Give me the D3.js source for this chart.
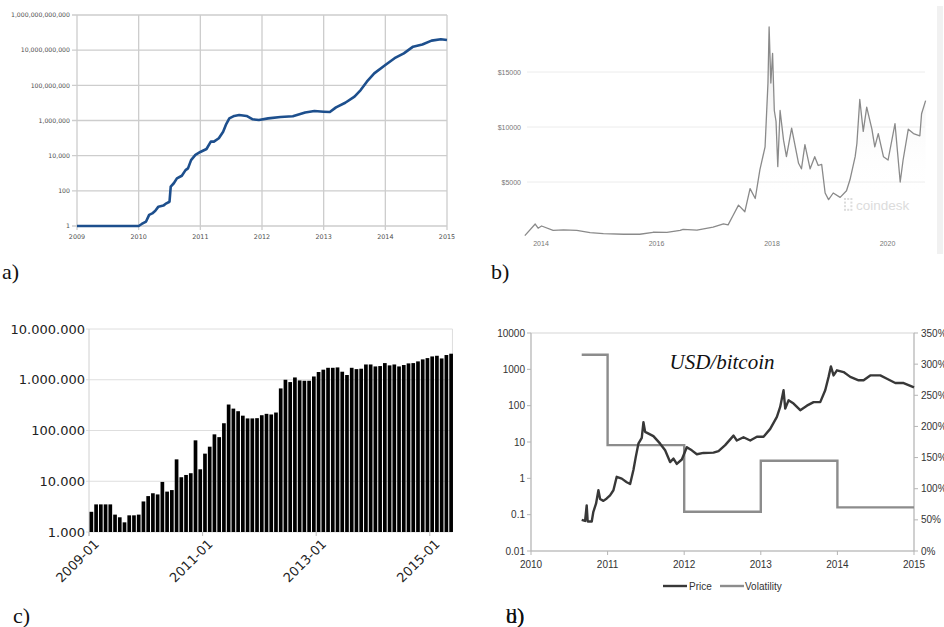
<!DOCTYPE html>
<html>
<head>
<meta charset="utf-8">
<script src="https://cdn.jsdelivr.net/npm/d3@7"></script>
<style>
  body { margin: 0; background: #fff; }
</style>
</head>
<body>
<svg id="fig"></svg>
<script>
// a) cumulative value (log scale), 2009-2015
const aYears = [2009, 2010, 2010.05, 2010.12, 2010.17, 2010.22, 2010.27, 2010.32, 2010.4, 2010.45, 2010.5,
  2010.52, 2010.57, 2010.62, 2010.7, 2010.76, 2010.8, 2010.85, 2010.92, 2011, 2011.1, 2011.17, 2011.22,
  2011.3, 2011.37, 2011.42, 2011.47, 2011.55, 2011.63, 2011.75, 2011.85, 2011.95, 2012.1, 2012.3, 2012.5,
  2012.7, 2012.85, 2013, 2013.1, 2013.2, 2013.35, 2013.5, 2013.6, 2013.7, 2013.82, 2014, 2014.15, 2014.3,
  2014.45, 2014.6, 2014.75, 2014.9, 2015]
const aValues = [1, 1, 1.3, 1.8, 4.3, 5.2, 7.4, 12.6, 14.5, 19.5, 24,
  174, 270, 510, 720, 1500, 1900, 5600, 11000, 16200, 24000, 63000, 63000,
  98000, 230000, 630000, 1320000, 1820000, 2040000, 1820000, 1170000, 1070000, 1320000, 1580000, 1740000,
  2880000, 3470000, 3160000, 3020000, 5600000, 1.02e7, 2.29e7, 5.4e7, 1.62e8, 4.8e8, 1.45e9, 3.5e9, 6.6e9,
  1.58e10, 2.1e10, 3.5e10, 4.2e10, 3.8e10]
const aYTicks = [1, 100, 1e4, 1e6, 1e8, 1e10, 1e12]
const aXTicks = [2009, 2010, 2011, 2012, 2013, 2014, 2015]

// b) coindesk price in USD
const bYears = [2013.72, 2013.9, 2013.95, 2014.01, 2014.21, 2014.39, 2014.62, 2014.85, 2015.08, 2015.43,
  2015.71, 2015.94, 2016.18, 2016.41, 2016.46, 2016.7, 2016.98, 2017.16, 2017.24, 2017.33, 2017.42,
  2017.53, 2017.62, 2017.71, 2017.79, 2017.88, 2017.93, 2017.95, 2017.98, 2018.01, 2018.04, 2018.07,
  2018.1, 2018.14, 2018.2, 2018.25, 2018.34, 2018.46, 2018.51, 2018.57, 2018.66, 2018.74, 2018.8,
  2018.86, 2018.92, 2018.98, 2019.06, 2019.18, 2019.29, 2019.35, 2019.44, 2019.47, 2019.52, 2019.58,
  2019.64, 2019.73, 2019.78, 2019.84, 2019.93, 2020.01, 2020.13, 2020.22, 2020.27, 2020.36, 2020.45,
  2020.56, 2020.59, 2020.66]
const bPrices = [120, 1180, 800, 1000, 600, 650, 600, 400, 300, 250,
  250, 430, 420, 600, 700, 620, 900, 1200, 1100, 2000, 2900,
  2300, 4400, 3500, 6100, 8200, 14000, 19100, 14000, 16700, 11500, 10500,
  6400, 11500, 8800, 7300, 9900, 6700, 6200, 8400, 6200, 7300, 6500,
  6600, 4000, 3400, 4000, 3600, 4200, 5200, 7300, 8500, 12500, 9600,
  11800, 9800, 8200, 9400, 7300, 7000, 10300, 5000, 7000, 9800, 9400,
  9200, 11200, 12400]
const bYTicks = [5000, 10000, 15000]
const bXTicks = [2014, 2016, 2018, 2020]

// c) monthly bars, 2009-01 .. 2015-05 (log scale)
const cValues = [2500, 3500, 3500, 3500, 3500, 2200, 1950, 1550, 2130, 2130, 2200, 4000,
  5100, 5800, 5500, 9700, 6250, 6700, 27000, 12000, 13300, 14400, 64000, 17200,
  35000, 48000, 84000, 74000, 139000, 325000, 270000, 240000, 196000, 173000, 173000, 175000,
  200000, 213000, 207000, 226000, 675000, 1000000, 900000, 1110000, 970000, 955000, 955000, 1160000,
  1420000, 1580000, 1720000, 1720000, 1750000, 1440000, 1240000, 1720000, 1620000, 1650000, 2000000, 2000000,
  1830000, 1860000, 2130000, 1920000, 2000000, 1830000, 1950000, 2100000, 2130000, 2300000, 2520000, 2670000,
  2880000, 2970000, 2630000, 3070000, 3260000]
const cMonths = d3.timeMonths(new Date(2009, 0, 1), new Date(2015, 5, 1))
const cYTicks = [1000, 10000, 100000, 1000000, 10000000]
const cXTicks = ["2009-01", "2011-01", "2013-01", "2015-01"]

// d) USD/bitcoin price (log, left) and yearly volatility (right)
const dYears = [2010.662, 2010.706, 2010.727, 2010.74, 2010.793, 2010.814, 2010.849, 2010.88, 2010.902,
  2010.945, 2010.989, 2011.032, 2011.076, 2011.119, 2011.185, 2011.25, 2011.294, 2011.337, 2011.368,
  2011.402, 2011.446, 2011.468, 2011.49, 2011.598, 2011.686, 2011.751, 2011.816, 2011.86, 2011.903,
  2011.969, 2012.034, 2012.099, 2012.165, 2012.252, 2012.382, 2012.448, 2012.535, 2012.644, 2012.687,
  2012.774, 2012.862, 2012.949, 2013.036, 2013.123, 2013.21, 2013.253, 2013.297, 2013.319, 2013.362,
  2013.428, 2013.515, 2013.602, 2013.689, 2013.776, 2013.841, 2013.885, 2013.915, 2013.95, 2013.994,
  2014.081, 2014.168, 2014.277, 2014.342, 2014.429, 2014.56, 2014.647, 2014.756, 2014.865, 2015]
const dPrices = [0.072, 0.067, 0.18, 0.065, 0.065, 0.12, 0.2, 0.47, 0.27,
  0.24, 0.28, 0.34, 0.47, 1.1, 0.98, 0.78, 0.7, 1.7, 3.9,
  9, 13, 35, 19, 14.5, 9, 5.9, 2.8, 3.5, 2.5,
  3.3, 7.2, 5.9, 4.6, 5.0, 5.1, 5.6, 8.2, 15, 11,
  13.5, 11, 14, 14, 23, 49, 92, 265, 83, 140,
  114, 75, 100, 125, 125, 265, 620, 1200, 680, 940,
  840, 620, 500, 500, 680, 680, 550, 420, 420, 320]
const dVolYears = [2010.662, 2011, 2012, 2013, 2014, 2015]
const dVolValues = [315, 170, 63, 145, 70, 70]
const dYTicks = [0.01, 0.1, 1, 10, 100, 1000, 10000]
const dY2Ticks = [0, 50, 100, 150, 200, 250, 300, 350]
const dXTicks = [2010, 2011, 2012, 2013, 2014, 2015]

const svg = d3.select("#fig").attr("width", 944).attr("height", 627)
svg.append("rect").attr("width", 944).attr("height", 627).attr("fill", "#fff")

// ---------- panel a ----------
{
  const x = d3.scaleLinear().domain([2009, 2015]).range([77, 447])
  const y = d3.scaleLog().domain([1, 1e12]).range([226, 15])
  const g = svg.append("g")
  const grid = g.append("g").attr("stroke", "#cdcdcd").attr("stroke-width", 1.3)
  grid.selectAll("line.h").data(aYTicks).join("line").attr("class", "h")
    .attr("x1", 72).attr("x2", 447).attr("y1", d => y(d)).attr("y2", d => y(d))
  grid.selectAll("line.v").data(aXTicks).join("line").attr("class", "v")
    .attr("x1", d => x(d)).attr("x2", d => x(d)).attr("y1", 15).attr("y2", 230)

  const fmt = d3.format(",.0f")
  g.append("g").attr("font-family", "DejaVu Sans").attr("font-size", "6.2px").attr("fill", "#505050")
    .attr("text-anchor", "end")
    .selectAll("text").data(aYTicks).join("text")
    .attr("x", 70).attr("y", d => y(d) + 2.2).text(d => fmt(d))
  g.append("g").attr("font-family", "DejaVu Sans").attr("font-size", "6.4px").attr("fill", "#505050")
    .attr("text-anchor", "middle")
    .selectAll("text").data(aXTicks).join("text")
    .attr("x", d => x(d)).attr("y", 239).text(d => d)

  g.append("path").datum(d3.zip(aYears, aValues))
    .attr("fill", "none").attr("stroke", "#1d4f8d").attr("stroke-width", 2.6)
    .attr("stroke-linejoin", "round")
    .attr("d", d3.line().x(d => x(d[0])).y(d => y(d[1])))
}

// ---------- panel b ----------
{
  const x = d3.scaleLinear().domain([2014, 2020]).range([541, 887.5])
  const y = d3.scaleLinear().domain([0, 15000]).range([237, 72])
  const g = svg.append("g")
  const defs = svg.append("defs")
  const grad = defs.append("linearGradient").attr("id", "bfill")
    .attr("gradientUnits", "userSpaceOnUse").attr("x1", 0).attr("x2", 0).attr("y1", 30).attr("y2", 195)
  grad.append("stop").attr("offset", 0).attr("stop-color", "#e4e4e4")
  grad.append("stop").attr("offset", 1).attr("stop-color", "#ffffff").attr("stop-opacity", 0)

  g.append("rect").attr("x", 937).attr("y", 6).attr("width", 6).attr("height", 248).attr("fill", "#f1f1f1")

  g.append("g").attr("stroke", "#ececec").attr("stroke-width", 1)
    .selectAll("line").data(bYTicks).join("line")
    .attr("x1", 527).attr("x2", 925).attr("y1", d => y(d)).attr("y2", d => y(d))
  g.append("g").attr("font-family", "Liberation Sans").attr("font-size", "7px").attr("fill", "#777")
    .attr("text-anchor", "end")
    .selectAll("text").data(bYTicks).join("text")
    .attr("x", 521).attr("y", d => y(d) + 2.5).text(d => "$" + d)
  g.append("g").attr("font-family", "Liberation Sans").attr("font-size", "7px").attr("fill", "#777")
    .attr("text-anchor", "middle")
    .selectAll("text").data(bXTicks).join("text")
    .attr("x", d => x(d)).attr("y", 246).text(d => d)

  const pts = d3.zip(bYears, bPrices)
  g.append("path").datum(pts).attr("fill", "url(#bfill)")
    .attr("d", d3.area().x(d => x(d[0])).y0(237).y1(d => y(d[1])))

  // watermark
  const wm = g.append("g").attr("fill", "#dcdcdc")
  for (let r = 0; r < 4; r++) {
    for (let c = 0; c < 3; c++) {
      if (c == 1 && (r == 1 || r == 2)) continue
      wm.append("rect").attr("x", 844 + c * 3.2).attr("y", 198 + r * 3.6).attr("width", 2).attr("height", 2)
    }
  }
  wm.append("text").attr("x", 856).attr("y", 210).attr("font-family", "Liberation Sans")
    .attr("font-size", "13.5px").text("coindesk")

  g.append("path").datum(pts).attr("fill", "none").attr("stroke", "#8a8a8a").attr("stroke-width", 1.3)
    .attr("stroke-linejoin", "round")
    .attr("d", d3.line().x(d => x(d[0])).y(d => y(d[1])))
}

// ---------- panel c ----------
{
  const monthFmt = d3.timeFormat("%Y-%m")
  const x = d3.scaleBand().domain(cMonths.map(monthFmt)).range([89, 89 + 77 * 4.72]).paddingInner(0.22)
  const y = d3.scaleLog().domain([1000, 1e7]).range([532, 329])
  const g = svg.append("g")
  const right = 89 + 77 * 4.72
  g.append("g").attr("stroke", "#dedede").attr("stroke-width", 1)
    .selectAll("line").data(cYTicks).join("line")
    .attr("x1", 86).attr("x2", right).attr("y1", d => y(d)).attr("y2", d => y(d))
  g.append("line").attr("x1", right).attr("x2", right).attr("y1", 329).attr("y2", 532)
    .attr("stroke", "#dedede")
  g.append("line").attr("x1", 89).attr("x2", 89).attr("y1", 329).attr("y2", 536)
    .attr("stroke", "#d0d0d0")

  g.append("g").attr("fill", "#000")
    .selectAll("rect").data(cValues).join("rect")
    .attr("x", (d, i) => x(monthFmt(cMonths[i])) + x.step() * 0.11)
    .attr("width", x.bandwidth())
    .attr("y", d => y(d)).attr("height", d => 532 - y(d))

  const dots = d3.formatLocale({ decimal: ",", thousands: ".", grouping: [3], currency: ["", ""] }).format(",")
  g.append("g").attr("font-family", "DejaVu Sans").attr("font-size", "13px").attr("fill", "#222")
    .attr("text-anchor", "end")
    .selectAll("text").data(cYTicks).join("text")
    .attr("x", 85).attr("y", d => y(d) + 4.5).text(d => dots(d))

  const xt = g.append("g")
  xt.selectAll("line").data(cXTicks).join("line")
    .attr("x1", d => x(d)).attr("x2", d => x(d)).attr("y1", 532).attr("y2", 536).attr("stroke", "#bbb")
  xt.selectAll("text").data(cXTicks).join("text")
    .attr("font-family", "DejaVu Sans").attr("font-size", "13px").attr("fill", "#222")
    .attr("text-anchor", "end").attr("dy", "0.75em")
    .attr("transform", d => `translate(${x(d) + 4},${538}) rotate(-45)`)
    .text(d => d)
}

// ---------- panel d ----------
{
  const x = d3.scaleLinear().domain([2010, 2015]).range([531, 914])
  const y = d3.scaleLog().domain([0.01, 10000]).range([551, 333])
  const y2 = d3.scaleLinear().domain([0, 350]).range([551, 333])
  const g = svg.append("g")
  const axisColor = "#b5b5b5"
  g.append("rect").attr("x", 531).attr("y", 333).attr("width", 383).attr("height", 218)
    .attr("fill", "none").attr("stroke", "#d6d6d6")
  const ax = g.append("g").attr("stroke", axisColor)
  ax.append("line").attr("x1", 531).attr("x2", 531).attr("y1", 333).attr("y2", 551)
  ax.append("line").attr("x1", 914).attr("x2", 914).attr("y1", 333).attr("y2", 551)
  ax.append("line").attr("x1", 531).attr("x2", 914).attr("y1", 551).attr("y2", 551)
  ax.selectAll("line.yl").data(dYTicks).join("line").attr("class", "yl")
    .attr("x1", 527).attr("x2", 531).attr("y1", d => y(d)).attr("y2", d => y(d))
  ax.selectAll("line.yr").data(dY2Ticks).join("line").attr("class", "yr")
    .attr("x1", 914).attr("x2", 918).attr("y1", d => y2(d)).attr("y2", d => y2(d))
  ax.selectAll("line.xb").data(dXTicks).join("line").attr("class", "xb")
    .attr("x1", d => x(d)).attr("x2", d => x(d)).attr("y1", 551).attr("y2", 555)

  const lab = g.append("g").attr("font-family", "Liberation Sans").attr("font-size", "10px").attr("fill", "#333")
  lab.selectAll("text.yl").data(dYTicks).join("text").attr("class", "yl")
    .attr("text-anchor", "end").attr("x", 525).attr("y", d => y(d) + 3.5).text(d => d)
  lab.selectAll("text.yr").data(dY2Ticks).join("text").attr("class", "yr")
    .attr("x", 921).attr("y", d => y2(d) + 3.5).text(d => d + "%")
  lab.selectAll("text.xb").data(dXTicks).join("text").attr("class", "xb")
    .attr("text-anchor", "middle").attr("x", d => x(d)).attr("y", 568).text(d => d)

  g.append("path").datum(d3.zip(dVolYears, dVolValues))
    .attr("fill", "none").attr("stroke", "#8c8c8c").attr("stroke-width", 2.4)
    .attr("d", d3.line().curve(d3.curveStepAfter).x(d => x(d[0])).y(d => y2(d[1])))
  g.append("path").datum(d3.zip(dYears, dPrices))
    .attr("fill", "none").attr("stroke", "#383838").attr("stroke-width", 2.4)
    .attr("stroke-linejoin", "round")
    .attr("d", d3.line().x(d => x(d[0])).y(d => y(d[1])))

  g.append("text").attr("x", 722).attr("y", 369).attr("text-anchor", "middle")
    .attr("font-family", "Liberation Serif").attr("font-style", "italic").attr("font-size", "21px")
    .attr("fill", "#111").text("USD/bitcoin")

  const leg = g.append("g").attr("font-family", "Liberation Sans").attr("font-size", "10px").attr("fill", "#333")
  leg.append("line").attr("x1", 663).attr("x2", 687).attr("y1", 586).attr("y2", 586)
    .attr("stroke", "#383838").attr("stroke-width", 2.4)
  leg.append("text").attr("x", 689).attr("y", 589.5).text("Price")
  leg.append("line").attr("x1", 720).attr("x2", 744).attr("y1", 586).attr("y2", 586)
    .attr("stroke", "#8c8c8c").attr("stroke-width", 2.4)
  leg.append("text").attr("x", 745).attr("y", 589.5).text("Volatility")
}

// ---------- panel letters ----------
const letters = svg.append("g").attr("font-family", "Liberation Serif").attr("font-size", "22px").attr("fill", "#111")
letters.append("text").attr("x", 2).attr("y", 279).text("a)")
letters.append("text").attr("x", 491).attr("y", 279).text("b)")
letters.append("text").attr("x", 13).attr("y", 623).text("c)")
letters.append("text").attr("x", 506).attr("y", 623).text("b)")
letters.append("text").attr("x", 506).attr("y", 623).text("d)")
</script>
</body>
</html>
